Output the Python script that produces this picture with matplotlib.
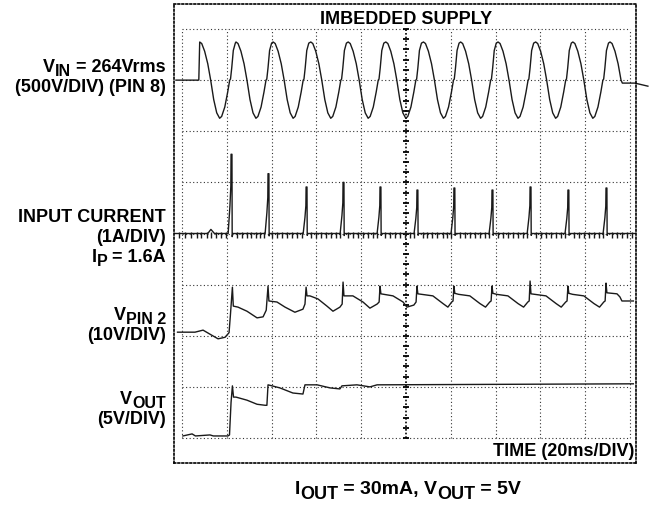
# Scope capture: start-up of the imbedded supply (4 channels, 20 ms/div)

import numpy as np
from matplotlib import pyplot as plt

plt.rcParams['font.family'] = 'Liberation Sans'
plt.rcParams['font.weight'] = 'bold'
plt.rcParams['font.size'] = 13

# channel settings: units per division, ground position in divisions
vin_scale, vin_zero = 500, 7
cur_scale, cur_zero = 1, 4
pin2_scale, pin2_zero = 10, 2
vout_scale, vout_zero = 5, 0

# VIN (V): one mains cycle, placed at each peak
vin_peaks = [7.9, 24.1, 40.7, 57.5, 74.2, 91.0, 107.8, 124.4, 141.1, 157.9, 174.5, 191.1]
cycle_dt = [0, 0.9, 2.2, 3.6, 4.9, 6.25, 7.6, 8.9, 9.8, 11.2, 12.5, 13.4, 13.75, 14.3, 15.0, 15.9]
cycle_v = [373, 358, 283, 160, 0, -190, -320, -373, -355, -263, -116, 0, 10, 120, 290, 362]
vin_head_t = [-2.7, 7.5]
vin_head_v = [0, 0]
vin_tail_t = [192.0, 193.3, 194.7, 196.0, 196.6, 202.2, 208.0]
vin_tail_v = [358, 283, 160, 0, -29, -29, -59]

# input current (A)
spike_t = [21.9, 38.4, 55.4, 71.9, 88.4, 104.9, 121.4, 138.4, 155.4, 172.3, 189.3]
spike_a = [1.55, 1.17, 0.91, 1.0, 0.91, 0.85, 0.89, 0.85, 0.91, 0.85, 0.89]
spike_dt = [-1.3, -0.5, -0.1, 0, 0.4, 0.5, 0.8]
spike_f = [0, 0.35, 0.6, 1, 1, -0.04, 0]
bump_t = [-3.6, 11.5, 12.9, 14.5]
bump_a = [0, 0, 0.08, 0]
glitch_t = [-1.5, 1.3, 4.0, 6.5, 8.5, 11.2, 13.0, 15.3, 17.5, 19.6, 24.5, 26.8, 29.0,
            30.8, 33.0, 34.8, 36.6, 40.2, 42.4, 44.6, 46.9, 49.1, 51.3, 53.5, 57.5,
            59.8, 62.0, 64.2, 66.5, 68.7, 70.6, 74.2, 76.4, 78.6, 80.9, 83.1, 85.3,
            87.0, 90.8, 93.0, 95.2, 97.4, 99.7, 101.9, 103.6, 107.4, 109.6, 111.8,
            114.0, 116.3, 118.5, 120.3, 124.0, 126.2, 128.4, 130.7, 132.9, 135.1,
            137.0, 141.0, 143.2, 145.4, 147.7, 149.9, 152.1, 154.0, 158.0, 160.2,
            162.4, 164.6, 166.9, 169.1, 171.0, 175.0, 177.2, 179.4, 181.6, 183.9,
            186.1, 188.0, 192.0, 194.2, 196.4, 198.6, 200.9]

# VPIN 2 (V)
pin2_t = [-2.0, 5.8, 9.4, 12.9, 16.1, 19.2, 21.0, 21.6, 22.5, 22.9, 25.0, 29.0, 33.5,
          36.2, 37.6, 38.4, 38.8, 42.4, 46.0, 50.4, 54.0, 54.9, 55.4, 55.8, 57.1, 60.7,
          64.7, 67.4, 70.5, 71.5, 71.9, 72.3, 76.3, 80.8, 83.9, 87.1, 88.0, 88.4, 88.8,
          94.2, 98.7, 100.4, 103.5, 104.5, 104.9, 105.3, 107.0, 112.0, 116.5, 118.7,
          120.4, 121.0, 121.4, 121.8, 123.5, 128.5, 133.0, 135.5, 137.4, 138.0, 138.4,
          138.8, 140.5, 145.5, 150.0, 152.5, 154.4, 155.0, 155.4, 155.8, 157.5, 162.5,
          167.0, 169.3, 171.3, 171.9, 172.3, 172.7, 174.4, 179.4, 183.9, 186.4, 188.3,
          188.9, 189.3, 189.7, 194.2, 195.5, 196.4, 201.5]
pin2_v = [0.7, 0.7, 1.1, 0.2, -0.6, -0.3, 0.6, 4.0, 9.5, 5.8, 5.6, 4.8, 3.5,
          3.7, 5.0, 9.7, 6.8, 6.6, 5.6, 4.6, 5.2, 6.2, 9.5, 7.8, 7.8, 7.2,
          5.8, 4.8, 5.6, 6.2, 10.5, 7.8, 7.8, 6.6, 5.4, 6.2, 6.6, 9.7, 8.2,
          7.8, 6.6, 5.6, 6.0, 6.6, 9.7, 8.2, 8.1, 7.8, 6.3, 5.6,
          6.6, 6.8, 9.7, 8.3, 8.1, 7.8, 6.3, 5.6, 6.6, 6.8, 9.7,
          8.3, 8.1, 7.8, 6.3, 5.6, 6.6, 6.8, 10.7, 8.2, 8.1, 7.8,
          6.3, 5.6, 6.6, 6.8, 9.7, 8.3, 8.1, 7.8, 6.3, 5.6, 6.6,
          6.8, 10.3, 8.4, 8.2, 7.6, 6.8, 6.8]

# VOUT (V)
vout_t = [0.4, 4.5, 6.0, 12.5, 14.0, 20.5, 21.2, 21.9, 22.5, 23.0, 24.1, 29.0, 33.5,
          37.1, 37.9, 38.4, 40.2, 43.7, 49.5, 54.0, 54.9, 60.3, 66.1, 70.5, 71.4,
          78.1, 83.9, 87.1, 201.5]
vout_v = [0.2, 0.4, 0.2, 0.3, 0.2, 0.2, 0.3, 3.5, 5.1, 4.0, 4.0, 3.7, 3.3,
          3.2, 3.2, 5.2, 5.1, 4.9, 4.4, 4.3, 5.2, 5.2, 4.9, 4.8, 5.1,
          5.2, 5.0, 5.2, 5.3]

# build the VIN and current traces
vin_t = list(vin_head_t)
vin_v = list(vin_head_v)
for p in vin_peaks[:-1]:
    vin_t += [p + d for d in cycle_dt]
    vin_v += cycle_v
vin_t += [vin_peaks[-1]] + vin_tail_t
vin_v += [cycle_v[0]] + vin_tail_v

cur_t = list(bump_t)
cur_a = list(bump_a)
for s, a in zip(spike_t, spike_a):
    cur_t += [s + d for d in spike_dt]
    cur_a += [a * f for f in spike_f]
cur_t.append(202.7)
cur_a.append(0)

W, H = 651, 506
fig = plt.figure(figsize=(W / 100, H / 100), dpi=100)
ax = fig.add_axes([0.2673, 0.0830, 0.7097, 0.9071])
ax.set_xlim(-3.57, 202.7)
ax.set_ylim(-0.489, 8.489)
ax.set_xticks([])
ax.set_yticks([])
for sp in ax.spines.values():
    sp.set_linestyle((0, (1, 1.4)))
    sp.set_linewidth(1.2)
    sp.set_color('black')

# graticule
grid_kw = dict(color='#333333', linewidth=0.8, linestyle=(0, (1, 2.2)))
ax.hlines(range(9), 0, 200, **grid_kw)
ax.vlines([x for x in range(0, 201, 20) if x != 100], 0, 8, **grid_kw)
ax.vlines(100, 0, 8, color='black', linewidth=1.2, linestyle=(0, (1, 1.2)))
ax.plot([100] * 41, np.arange(0, 8.01, 0.2), ls='none', marker='_', ms=4,
        mew=1.3, color='black')

trace_kw = dict(color='#1a1a1a', linewidth=1.0)
ax.plot(vin_t, vin_zero + np.array(vin_v) / vin_scale, clip_on=False, **trace_kw)
ax.plot(cur_t, cur_zero + np.array(cur_a) / cur_scale, **trace_kw)
ax.vlines(glitch_t, cur_zero - 0.08, cur_zero + 0.02, color='#1a1a1a', linewidth=1.0)
ax.plot(pin2_t, pin2_zero + np.array(pin2_v) / pin2_scale, **trace_kw)
ax.plot(vout_t, vout_zero + np.array(vout_v) / vout_scale, **trace_kw)

renderer = fig.canvas.get_renderer()


def text_width(s, size):
    t = fig.text(0, 0, '|' + s + '|', fontsize=size)
    w = t.get_window_extent(renderer).width
    t.set_text('||')
    w -= t.get_window_extent(renderer).width
    t.remove()
    return w


def label(x_px, base_px, parts, size=13, sub_size=11.5, drop=4, ha='right'):
    # parts: (text, is_subscript); laid out left to right on one baseline
    sizes = [sub_size if sub else size for s, sub in parts]
    widths = [text_width(s, sz) for (s, sub), sz in zip(parts, sizes)]
    x = x_px - sum(widths) if ha == 'right' else x_px - sum(widths) / 2
    for (s, sub), sz, w in zip(parts, sizes, widths):
        y = base_px + (drop if sub else 0)
        fig.text(x / W, 1 - y / H, s, fontsize=sz, ha='left', va='baseline')
        x += w


label(406, 23.5, [('IMBEDDED SUPPLY', False)], ha='center')
label(634, 456.5, [('TIME (20ms/DIV)', False)])
label(408, 494, [('I', False), ('OUT', True), (' = 30mA, V', False), ('OUT', True),
                 (' = 5V', False)], size=14, sub_size=13, drop=5.5, ha='center')

label(166, 72, [('V', False), ('IN', True), (' = 264Vrms', False)])
label(166, 92, [('(500V/DIV) (PIN 8)', False)])
label(166, 222, [('INPUT CURRENT', False)])
label(166, 242, [('(1A/DIV)', False)])
label(166, 262, [('I', False), ('P', True), (' = 1.6A', False)])
label(166, 320, [('V', False), ('PIN 2', True)])
label(166, 340, [('(10V/DIV)', False)])
label(166, 404, [('V', False), ('OUT', True)])
label(166, 424, [('(5V/DIV)', False)])

plt.savefig('out.png', dpi=100)
